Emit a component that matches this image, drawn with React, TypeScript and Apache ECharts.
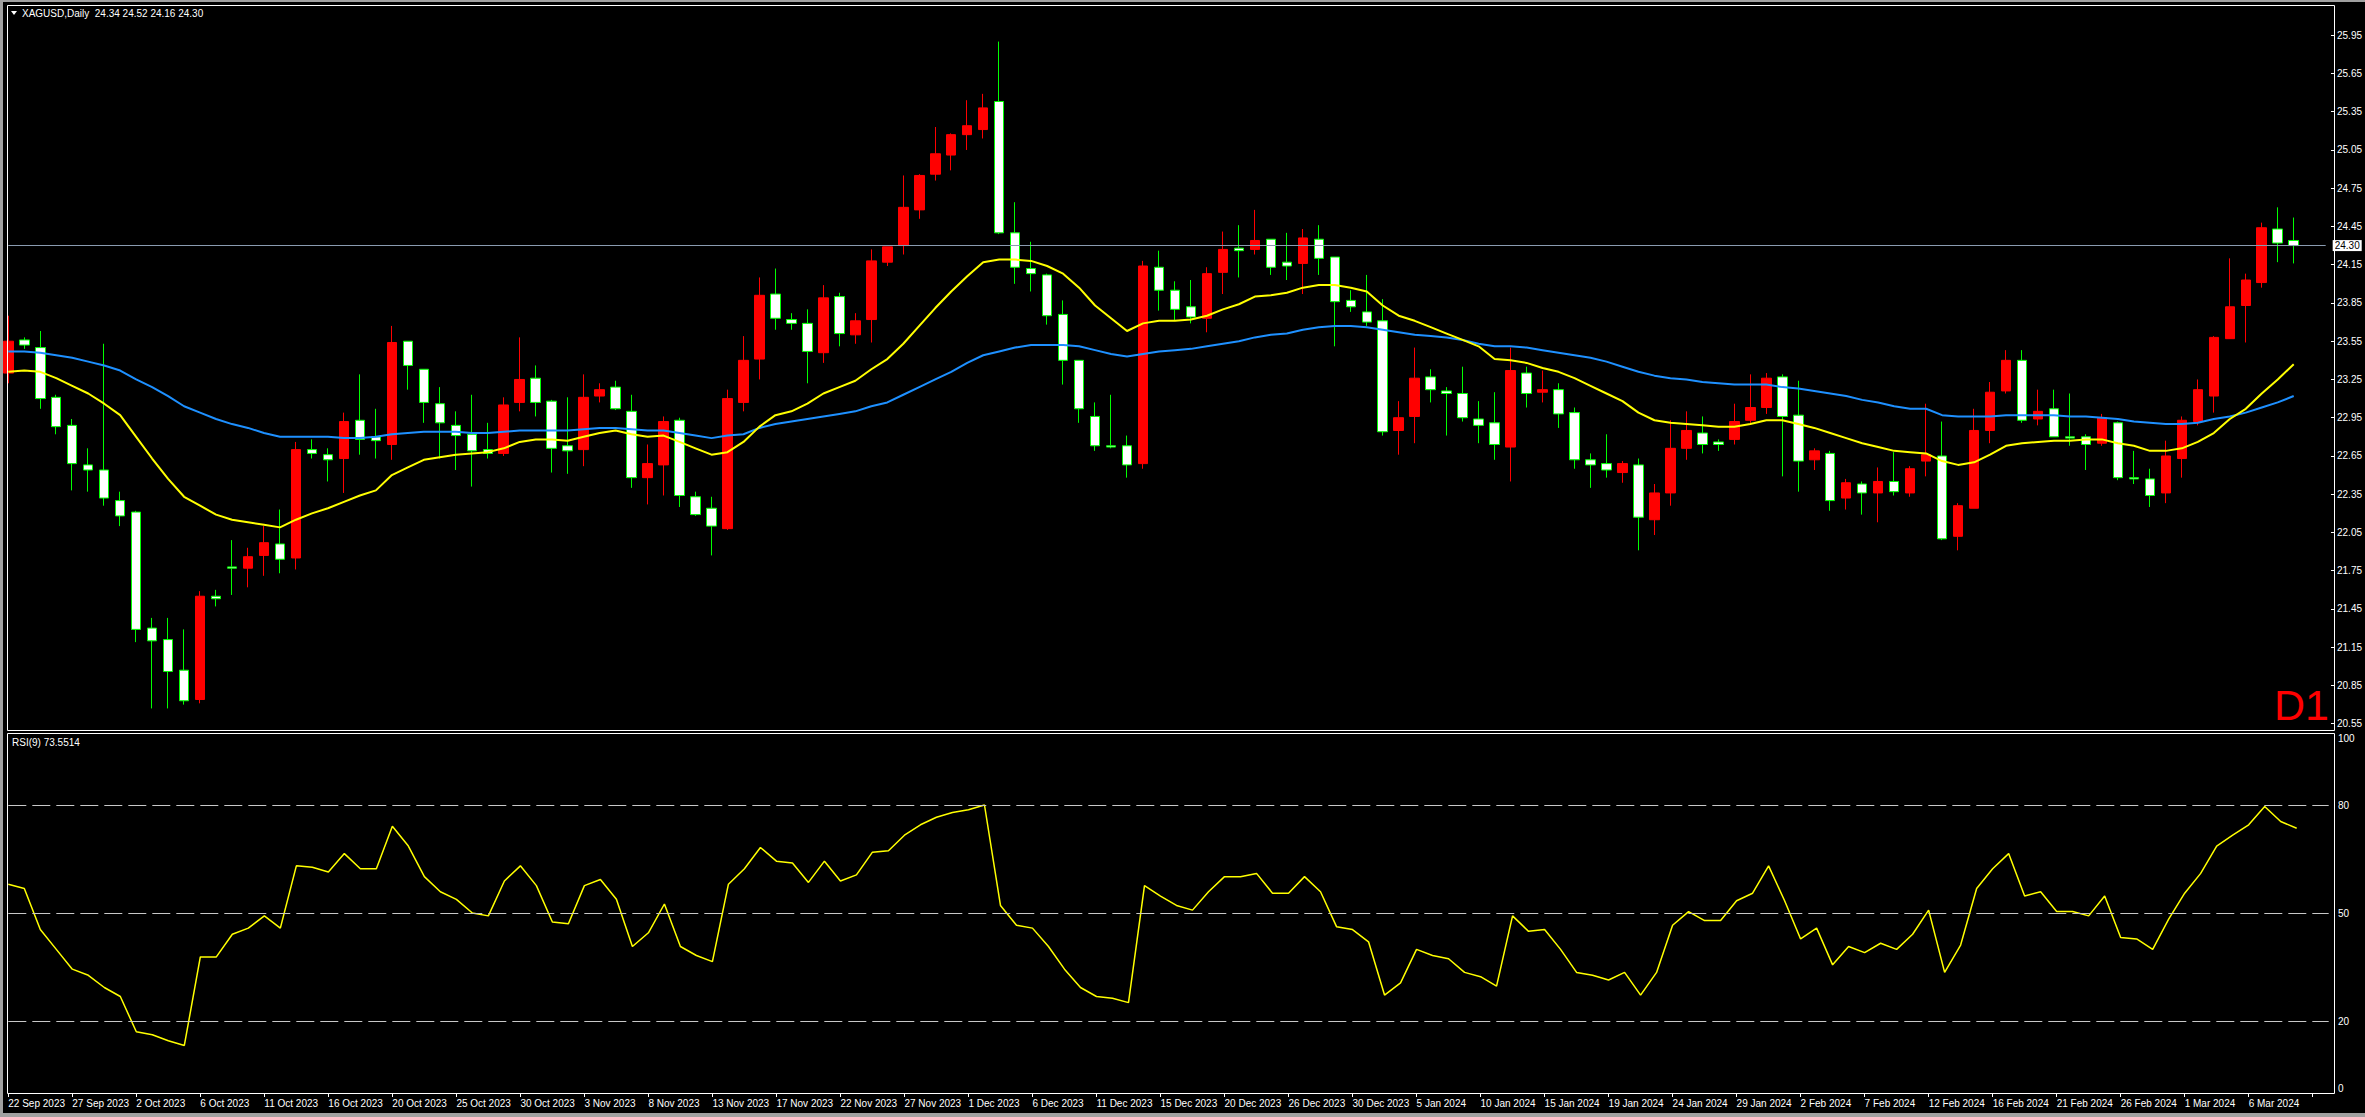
import React, { useEffect, useRef } from "react";
import * as echarts from "echarts";

const tickLabels = ["22 Sep 2023","27 Sep 2023","2 Oct 2023","6 Oct 2023","11 Oct 2023","16 Oct 2023","20 Oct 2023","25 Oct 2023","30 Oct 2023","3 Nov 2023","8 Nov 2023","13 Nov 2023","17 Nov 2023","22 Nov 2023","27 Nov 2023","1 Dec 2023","6 Dec 2023","11 Dec 2023","15 Dec 2023","20 Dec 2023","26 Dec 2023","30 Dec 2023","5 Jan 2024","10 Jan 2024","15 Jan 2024","19 Jan 2024","24 Jan 2024","29 Jan 2024","2 Feb 2024","7 Feb 2024","12 Feb 2024","16 Feb 2024","21 Feb 2024","26 Feb 2024","1 Mar 2024","6 Mar 2024"];

const opens = [23.30,23.56,23.50,23.11,22.89,22.58,22.54,22.30,22.21,21.30,21.21,20.97,20.74,21.55,21.78,21.77,21.87,21.96,21.85,22.70,22.66,22.63,22.93,22.80,22.74,
23.55,23.33,23.06,22.89,22.82,22.70,22.67,23.07,23.26,23.08,22.73,22.70,23.12,23.19,23.00,22.48,22.58,22.93,22.33,22.24,22.08,23.07,23.41,23.92,
23.72,23.69,23.46,23.90,23.60,23.72,24.17,24.30,24.58,24.86,25.01,25.17,25.21,25.43,24.40,24.12,24.07,23.76,23.40,22.96,22.73,22.73,22.59,24.13,
23.95,23.82,23.73,24.09,24.28,24.27,24.35,24.17,24.16,24.35,24.21,23.87,23.78,23.71,22.85,22.96,23.27,23.16,23.14,22.94,22.91,22.72,23.30,23.15,23.17,
22.99,22.62,22.59,22.52,22.58,22.15,22.36,22.71,22.83,22.76,22.78,22.93,23.03,23.27,22.97,22.62,22.67,22.32,22.43,22.36,22.45,22.36,22.61,22.65,
22.02,22.24,22.85,23.16,23.40,22.94,23.02,22.80,22.80,22.75,22.91,22.48,22.47,22.36,22.63,22.92,23.12,23.57,23.83,24.01,24.43,24.34];
const highs = [23.75,23.58,23.63,23.13,22.94,22.71,23.53,22.37,22.22,21.38,21.38,21.29,21.59,21.60,21.99,21.93,22.10,22.23,22.76,22.78,22.71,22.99,23.29,23.02,23.67,
23.55,23.33,23.19,23.00,23.13,22.91,23.11,23.58,23.36,23.09,23.11,23.29,23.22,23.24,23.13,22.74,22.96,22.95,22.37,22.33,23.17,23.59,24.05,24.12,
23.77,23.80,23.99,23.93,23.77,24.27,24.29,24.85,24.86,25.23,25.18,25.44,25.49,25.90,24.64,24.33,24.08,23.87,23.40,23.07,23.13,22.81,24.18,24.26,
24.02,24.03,24.13,24.41,24.46,24.58,24.35,24.40,24.43,24.46,24.21,23.95,24.07,23.88,23.08,23.50,23.33,23.19,23.35,23.08,23.15,23.50,23.35,23.32,23.22,
23.03,22.67,22.82,22.61,22.63,22.43,22.93,23.00,22.96,22.78,23.06,23.29,23.30,23.29,23.24,22.71,22.69,22.47,22.45,22.56,22.68,22.57,23.06,22.92,
22.28,23.02,23.23,23.48,23.48,23.17,23.17,23.14,22.82,22.98,22.92,22.69,22.55,22.77,22.96,23.25,23.59,24.20,24.08,24.48,24.60,24.52];
const lows = [23.22,23.49,23.02,22.82,22.38,22.37,22.26,22.10,21.19,20.67,20.67,20.70,20.71,21.47,21.56,21.62,21.71,21.73,21.76,22.63,22.45,22.36,22.66,22.63,22.62,
23.17,22.91,22.63,22.54,22.41,22.63,22.65,23.00,22.96,22.52,22.51,22.57,23.07,23.01,22.40,22.27,22.34,22.25,22.18,21.87,22.07,23.00,23.25,23.64,
23.64,23.22,23.38,23.51,23.53,23.54,24.14,24.23,24.51,24.81,24.89,25.05,25.14,24.39,24.00,23.94,23.68,23.21,22.91,22.69,22.71,22.48,22.55,23.79,
23.71,23.69,23.62,23.92,24.05,24.23,24.07,24.03,23.92,24.07,23.51,23.78,23.67,22.81,22.66,22.75,23.07,22.81,22.92,22.75,22.62,22.45,23.03,23.07,22.87,
22.55,22.40,22.48,22.44,21.91,22.03,22.26,22.62,22.67,22.69,22.74,22.91,22.98,22.49,22.37,22.54,22.22,22.23,22.19,22.13,22.34,22.33,22.49,21.99,
21.91,22.24,22.75,23.14,22.91,22.89,22.80,22.73,22.54,22.73,22.46,22.43,22.25,22.28,22.48,22.89,22.99,23.57,23.54,23.97,24.17,24.16];
const closes = [23.55,23.52,23.10,22.88,22.59,22.54,22.32,22.18,21.29,21.20,20.96,20.73,21.55,21.53,21.77,21.86,21.97,21.84,22.70,22.67,22.62,22.92,22.78,22.77,23.54,
23.36,23.07,22.91,22.81,22.69,22.67,23.05,23.25,23.07,22.71,22.69,23.11,23.17,23.02,22.48,22.59,22.92,22.34,22.19,22.10,23.10,23.40,23.91,23.73,
23.69,23.47,23.89,23.61,23.71,24.18,24.29,24.60,24.85,25.02,25.17,25.24,25.38,24.40,24.13,24.08,23.75,23.40,23.02,22.73,22.72,22.58,24.14,23.95,
23.80,23.74,24.08,24.27,24.26,24.34,24.13,24.14,24.36,24.20,23.86,23.82,23.70,22.84,22.95,23.26,23.17,23.14,22.95,22.89,22.74,23.32,23.14,23.17,22.98,
22.62,22.58,22.54,22.59,22.17,22.36,22.71,22.85,22.74,22.74,22.92,23.03,23.26,22.96,22.61,22.69,22.30,22.44,22.36,22.45,22.37,22.55,22.66,22.00,
22.26,22.85,23.15,23.40,22.93,23.00,22.80,22.79,22.74,22.95,22.48,22.47,22.34,22.65,22.93,23.17,23.58,23.82,24.03,24.44,24.32,24.30];

const maYellow = [23.31,23.32,23.31,23.26,23.20,23.14,23.06,22.97,22.80,22.63,22.47,22.33,22.26,22.19,22.15,22.13,22.11,22.09,22.15,22.20,22.24,22.29,22.34,22.38,22.50,
22.56,22.62,22.64,22.66,22.67,22.68,22.71,22.76,22.78,22.78,22.77,22.80,22.83,22.85,22.82,22.80,22.81,22.76,22.71,22.66,22.68,22.76,22.88,22.97,
23.00,23.06,23.14,23.19,23.24,23.33,23.41,23.53,23.67,23.81,23.94,24.06,24.17,24.19,24.19,24.18,24.14,24.08,23.97,23.83,23.73,23.63,23.69,23.71,
23.71,23.72,23.75,23.80,23.84,23.90,23.91,23.93,23.97,23.99,23.99,23.97,23.94,23.83,23.75,23.71,23.66,23.61,23.56,23.51,23.41,23.40,23.38,23.34,23.31,
23.26,23.20,23.14,23.08,22.99,22.93,22.91,22.90,22.89,22.88,22.88,22.90,22.93,22.93,22.90,22.87,22.83,22.79,22.75,22.72,22.69,22.68,22.67,22.61,
22.58,22.60,22.66,22.73,22.75,22.76,22.77,22.77,22.78,22.78,22.75,22.73,22.69,22.69,22.71,22.76,22.83,22.94,23.02,23.14,23.25,23.37];
const maBlue = [23.47,23.47,23.46,23.44,23.42,23.39,23.36,23.32,23.25,23.19,23.12,23.04,22.99,22.94,22.90,22.87,22.83,22.80,22.80,22.80,22.80,22.79,22.79,22.80,22.82,
22.83,22.84,22.84,22.84,22.83,22.83,22.84,22.85,22.85,22.85,22.85,22.86,22.87,22.87,22.86,22.85,22.85,22.83,22.81,22.79,22.81,22.82,22.87,22.90,
22.92,22.94,22.96,22.98,23.00,23.04,23.07,23.13,23.19,23.25,23.31,23.38,23.44,23.47,23.50,23.52,23.52,23.52,23.51,23.48,23.45,23.43,23.45,23.47,
23.48,23.49,23.51,23.53,23.55,23.58,23.60,23.61,23.64,23.66,23.67,23.67,23.66,23.64,23.62,23.60,23.59,23.58,23.56,23.53,23.51,23.51,23.50,23.48,23.46,
23.44,23.42,23.39,23.35,23.31,23.28,23.26,23.25,23.23,23.22,23.21,23.21,23.21,23.19,23.18,23.16,23.14,23.12,23.09,23.07,23.04,23.02,23.02,22.97,
22.96,22.96,22.96,22.97,22.97,22.97,22.97,22.96,22.96,22.95,22.94,22.92,22.91,22.90,22.90,22.91,22.94,22.96,22.99,23.03,23.07,23.12];
const rsi9 = [58.0,56.8,45.4,39.9,34.4,32.7,29.3,26.8,17.0,16.2,
14.5,13.2,37.8,37.8,44.1,45.8,49.2,45.8,63.1,62.7,
61.4,66.5,62.3,62.3,74.1,68.6,60.1,55.9,53.8,50.0,
49.2,58.9,63.1,57.6,47.5,47.0,57.6,59.3,53.8,40.7,
44.5,52.5,40.7,38.2,36.5,58.0,62.3,68.2,64.4,63.9,
58.5,64.4,58.9,60.6,66.9,67.3,71.6,74.5,76.6,77.9,
78.7,80.0,52.1,46.6,45.8,40.7,34.4,29.3,26.8,26.3,
25.1,57.6,54.7,52.1,50.8,55.9,60.1,60.1,61.0,55.5,
55.5,60.1,55.9,46.2,45.4,42.0,27.2,30.6,39.9,38.2,
37.3,33.5,32.3,29.7,49.2,44.9,45.4,39.9,33.5,32.7,
31.4,33.5,27.2,33.5,46.6,50.4,47.9,47.9,53.4,55.5,
63.1,53.4,42.8,45.8,35.6,40.7,39.0,41.6,39.9,44.1,
50.8,33.5,41.1,56.8,62.3,66.5,54.7,55.9,50.4,50.4,
49.2,54.7,43.2,42.8,39.9,48.3,55.5,61.0,68.6,71.6,
74.5,79.6,75.4,73.5514];

const priceTicks = [25.95,25.65,25.35,25.05,24.75,24.45,24.15,23.85,23.55,23.25,22.95,22.65,22.35,22.05,21.75,21.45,21.15,20.85,20.55];
const rsiMidTicks = [20, 50, 80];
const rsiTopTick = [100];
const rsiBottomTick = [0];
const rsiLevels = [80, 50, 20];

const SLOTS = 146;
const categories = Array.from({ length: SLOTS }, (_, i) => String(i));
const FONT = "'Liberation Sans', Arial, sans-serif";

export default function App() {
  const ref = useRef<HTMLDivElement>(null);
  useEffect(() => {
    if (!ref.current) return;
    const chart = echarts.init(ref.current, undefined, { renderer: "svg" });
    const last = closes.length - 1;
    const candleData = opens.map((o, i) => [o, closes[i], lows[i], highs[i]]);
    const gridLeft = 8.3;
    const gridWidth = 2320.4;
    const axisOffset = 5.3;
    const rsiAxisBase = {
      type: "value",
      gridIndex: 1,
      min: 0,
      max: 100,
      position: "right",
      offset: axisOffset,
      splitLine: { show: false },
      axisLine: { show: false },
      axisTick: { show: false },
    };
    const option: any = {
      animation: false,
      backgroundColor: "#000000",
      grid: [
        { left: gridLeft, top: 6, width: gridWidth, height: 725 },
        { left: gridLeft, top: 733, width: gridWidth, height: 360 },
      ],
      xAxis: [
        { type: "category", gridIndex: 0, data: categories, boundaryGap: false, show: false },
        {
          type: "category",
          gridIndex: 1,
          data: categories,
          boundaryGap: false,
          axisLine: { show: false },
          axisTick: { show: true, interval: 3, length: 4, lineStyle: { color: "#ffffff" } },
          axisLabel: {
            interval: 3,
            align: "left",
            margin: 5,
            color: "#ffffff",
            fontSize: 10,
            fontFamily: FONT,
            formatter: (_v: string, idx: number) => tickLabels[idx / 4] ?? "",
          },
          splitLine: { show: false },
        },
      ],
      yAxis: [
        {
          type: "value",
          gridIndex: 0,
          min: 20.493,
          max: 26.179,
          position: "right",
          offset: axisOffset,
          splitLine: { show: false },
          axisLine: { show: false },
          axisTick: { show: true, customValues: priceTicks, length: 3, lineStyle: { color: "#ffffff" } },
          axisLabel: {
            customValues: priceTicks,
            color: "#ffffff",
            fontSize: 10,
            fontFamily: FONT,
            margin: 6,
            formatter: (v: number) => v.toFixed(2),
          },
        },
        {
          ...rsiAxisBase,
          axisLabel: { customValues: rsiMidTicks, color: "#ffffff", fontSize: 10, fontFamily: FONT, margin: 4 },
        },
        {
          ...rsiAxisBase,
          axisLabel: { customValues: rsiTopTick, color: "#ffffff", fontSize: 10, fontFamily: FONT, margin: 4, verticalAlign: "top" },
        },
        {
          ...rsiAxisBase,
          axisLabel: { customValues: rsiBottomTick, color: "#ffffff", fontSize: 10, fontFamily: FONT, margin: 4, verticalAlign: "bottom" },
        },
      ],
      series: [
        {
          type: "candlestick",
          name: "XAGUSD",
          xAxisIndex: 0,
          yAxisIndex: 0,
          data: candleData,
          barWidth: 10,
          itemStyle: {
            color: "#ff0000",
            color0: "#ffffff",
            borderColor: "#ff0000",
            borderColor0: "#00ff00",
            borderWidth: 1,
          },
          z: 2,
          markLine: {
            silent: true,
            symbol: ["none", "none"],
            data: [{ yAxis: closes[last] }],
            lineStyle: { color: "#8a9bb0", width: 1, type: "solid" },
            label: {
              show: true,
              position: "end",
              distance: 7,
              formatter: () => closes[last].toFixed(2),
              backgroundColor: "#ffffff",
              color: "#000000",
              fontSize: 10,
              fontFamily: FONT,
              padding: [1, 2, 0, 2],
            },
          },
        },
        {
          type: "line",
          name: "MA fast",
          xAxisIndex: 0,
          yAxisIndex: 0,
          data: maYellow,
          showSymbol: false,
          lineStyle: { color: "#ffff00", width: 2 },
          z: 4,
        },
        {
          type: "line",
          name: "MA slow",
          xAxisIndex: 0,
          yAxisIndex: 0,
          data: maBlue,
          showSymbol: false,
          lineStyle: { color: "#1e90ff", width: 2 },
          z: 3,
        },
        {
          type: "line",
          name: "RSI(9)",
          xAxisIndex: 1,
          yAxisIndex: 1,
          data: rsi9,
          showSymbol: false,
          lineStyle: { color: "#ffff00", width: 1.5 },
          z: 4,
          markLine: {
            silent: true,
            symbol: ["none", "none"],
            data: rsiLevels.map((v) => ({ yAxis: v })),
            lineStyle: { color: "#c8c8c8", width: 1, type: [18, 6] },
            label: { show: false },
          },
        },
      ],
      graphic: [
        { type: "rect", shape: { x: 0, y: 0, width: 3, height: 1117 }, style: { fill: "#a0a0a0" }, z: 10 },
        { type: "rect", shape: { x: 0, y: 0, width: 2365, height: 2 }, style: { fill: "#a0a0a0" }, z: 10 },
        { type: "rect", shape: { x: 0, y: 1113, width: 2365, height: 4 }, style: { fill: "#a0a0a0" }, z: 10 },
        { type: "rect", shape: { x: 7.5, y: 5.5, width: 2327, height: 725 }, style: { fill: "none", stroke: "#ffffff", lineWidth: 1 }, z: 10 },
        { type: "rect", shape: { x: 7.5, y: 733.5, width: 2327, height: 360 }, style: { fill: "none", stroke: "#ffffff", lineWidth: 1 }, z: 10 },
        { type: "polygon", shape: { points: [[11, 11], [17, 11], [14, 15]] }, style: { fill: "#ffffff" }, z: 10 },
        {
          type: "text",
          x: 22,
          y: 13,
          style: {
            text: "XAGUSD,Daily  24.34 24.52 24.16 24.30",
            fill: "#ffffff",
            fontSize: 10,
            fontFamily: FONT,
            verticalAlign: "middle",
          },
          z: 10,
        },
        {
          type: "text",
          x: 12,
          y: 742,
          style: {
            text: "RSI(9) " + rsi9[last].toFixed(4),
            fill: "#ffffff",
            fontSize: 10,
            fontFamily: FONT,
            verticalAlign: "middle",
          },
          z: 10,
        },
        {
          type: "text",
          x: 2329,
          y: 726,
          style: {
            text: "D1",
            fill: "#ff0000",
            fontSize: 43,
            fontFamily: FONT,
            align: "right",
            verticalAlign: "bottom",
          },
          z: 10,
        },
      ],
    };
    chart.setOption(option);
    return () => chart.dispose();
  }, []);
  return (
    <div
      ref={ref}
      style={{ position: "absolute", left: 0, top: 0, width: 2365, height: 1117, background: "#000000" }}
    />
  );
}
